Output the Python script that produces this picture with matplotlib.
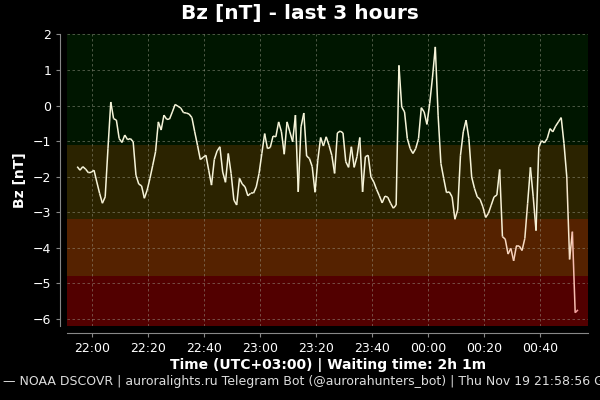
import numpy as np
import pandas as pd
import matplotlib
matplotlib.use("Agg")
import matplotlib.pyplot as plt
import matplotlib.dates as mdates
from matplotlib.collections import LineCollection
from matplotlib.colors import LinearSegmentedColormap

# Bz readings, one per minute, from 21:54:40 local time
start = "2020-11-19 21:54:40"
bz = [-1.72, -1.82, -1.72, -1.79, -1.89, -1.88, -1.82, -2.15, -2.47, -2.75,
      -2.57, -1.20, 0.10, -0.37, -0.41, -0.93, -1.04, -0.83, -0.96, -0.93,
      -1.02, -1.96, -2.21, -2.26, -2.61, -2.38, -2.05, -1.68, -1.30, -0.46,
      -0.69, -0.27, -0.39, -0.38, -0.18, 0.03, -0.02, -0.07, -0.20, -0.21,
      -0.24, -0.34, -0.74, -1.12, -1.52, -1.46, -1.40, -1.82, -2.24, -1.52,
      -1.28, -1.16, -1.87, -2.16, -1.35, -1.91, -2.66, -2.80, -2.05, -2.21,
      -2.29, -2.54, -2.47, -2.47, -2.29, -1.91, -1.35, -0.79, -1.21, -1.18,
      -0.86, -0.88, -0.46, -0.74, -1.37, -0.46, -0.74, -1.02, -0.27, -2.43,
      -0.60, -0.21, -1.42, -1.49, -1.72, -2.44, -1.54, -0.90, -1.14, -0.88,
      -1.12, -1.40, -1.91, -0.77, -0.72, -0.77, -1.58, -1.74, -1.16, -1.74,
      -1.44, -0.90, -2.43, -1.44, -1.40, -2.01, -2.15, -2.36, -2.54, -2.74,
      -2.55, -2.58, -2.75, -2.89, -2.80, 1.13, -0.04, -0.18, -0.93, -1.21,
      -1.35, -1.21, -0.93, -0.06, -0.18, -0.53, 0.06, 0.80, 1.65, -0.27,
      -1.63, -2.05, -2.45, -2.43, -2.57, -3.20, -2.94, -1.40, -0.74, -0.41,
      -0.93, -2.01, -2.33, -2.57, -2.64, -2.85, -3.15, -3.03, -2.80, -2.57,
      -2.52, -1.80, -3.69, -3.76, -4.18, -4.02, -4.37, -3.95, -3.95, -4.08,
      -3.74, -2.75, -1.74, -2.57, -3.52, -1.16, -0.99, -1.05, -0.93, -0.65,
      -0.74, -0.58, -0.46, -0.34, -1.07, -2.01, -4.33, -3.55, -5.83, -5.75]

band_edges = [-1.1, -3.2, -4.8]
band_colors = ["#001600", "#2b2300", "#552200", "#520000"]

times = pd.date_range(start, periods=len(bz), freq="1min")

plt.rcParams["font.family"] = "DejaVu Sans"
fig = plt.figure(figsize=(6, 4), dpi=100, facecolor="black")
ax = fig.add_axes([0.112, 0.185, 0.868, 0.731], facecolor="black")

x = mdates.date2num(times.to_pydatetime())
y = np.array(bz)

# limits with small padding around the data
xr = x[-1] - x[0]
yr = y.max() - y.min()
ax.set_xlim(x[0] - 0.02 * xr, x[-1] + 0.02 * xr)
ax.set_ylim(y.min() - 0.05 * yr, y.max() + 0.05 * yr)

# coloured bands
edges = [10] + band_edges + [-10]
for i, c in enumerate(band_colors):
    ax.axhspan(edges[i + 1], edges[i], color=c, zorder=0, lw=0)

# line coloured by value
cmap = LinearSegmentedColormap.from_list("bz", ["#f49c9c", "#f8d8c0", "#f7f5da"])
pts = np.column_stack([x, y]).reshape(-1, 1, 2)
segs = np.concatenate([pts[:-1], pts[1:]], axis=1)
lc = LineCollection(segs, cmap=cmap, norm=plt.Normalize(-5.5, -2.5), lw=1.1, zorder=3)
lc.set_array((y[:-1] + y[1:]) / 2)
ax.add_collection(lc)

ax.xaxis.set_major_locator(mdates.MinuteLocator(byminute=[0, 20, 40]))
ax.xaxis.set_major_formatter(mdates.DateFormatter("%H:%M"))
ax.set_yticks(range(-6, 3))

ax.grid(True, color="#a0a090", ls=(0, (3, 3)), lw=0.6, alpha=0.55)
for s in ["top", "right"]:
    ax.spines[s].set_visible(False)
for s in ["left", "bottom"]:
    ax.spines[s].set_position(("outward", 5))
    ax.spines[s].set_color("#888888")
ax.tick_params(colors="#888888", labelcolor="white", labelsize=9, length=3)

fig.text(0.5, 0.965, "Bz [nT] - last 3 hours", color="white", fontsize=14.5,
         fontweight="bold", ha="center", va="center")
ax.set_ylabel("Bz [nT]", color="white", fontsize=10, fontweight="bold", labelpad=4)
ax.set_xlabel("Time (UTC+03:00) | Waiting time: 2h 1m", color="white", fontsize=10,
              fontweight="bold", labelpad=2)

fig.text(0.005, 0.045, "\u2014 NOAA DSCOVR | auroralights.ru Telegram Bot (@aurorahunters_bot) | Thu Nov 19 21:58:56 GMT 2020",
         color="#dddddd", fontsize=9, ha="left", va="center")

fig.savefig("out.png", dpi=100, facecolor="black")
